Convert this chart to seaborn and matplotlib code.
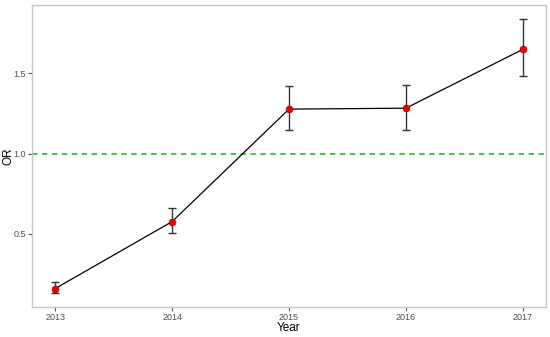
import matplotlib
matplotlib.use("Agg")
import matplotlib.pyplot as plt
import seaborn as sns
import pandas as pd

years = [2013, 2014, 2015, 2016, 2017]
odds_ratio = [0.16, 0.577, 1.277, 1.283, 1.649]
ci_lower = [0.13, 0.508, 1.150, 1.150, 1.482]
ci_upper = [0.198, 0.660, 1.420, 1.426, 1.839]
yticks = [0.5, 1.0, 1.5]
xticks = [2013, 2014, 2015, 2016, 2017]

df = pd.DataFrame({"Year": years, "OR": odds_ratio, "lo": ci_lower, "hi": ci_upper})

sns.set_style("white")
plt.rcParams['font.family'] = ['Liberation Sans', 'DejaVu Sans']

fig = plt.figure(figsize=(5.5, 3.37), dpi=100)
ax = fig.add_axes([0.058, 0.089, 0.935, 0.896])

ax.errorbar(df["Year"], df["OR"],
            yerr=[df["OR"] - df["lo"], df["hi"] - df["OR"]],
            fmt="none", ecolor="#333333", elinewidth=1.0, capsize=2.7, capthick=1.0, zorder=2)
sns.lineplot(data=df, x="Year", y="OR", color="black", linewidth=0.9, ax=ax, zorder=3)
sns.scatterplot(data=df, x="Year", y="OR", color="#EE0000", edgecolor="#AA0000",
                linewidth=0.5, s=24, ax=ax, zorder=4)
ax.axhline(1.0, color="#3DB63D", linestyle=(0, (3, 2.5)), linewidth=1.3, zorder=1)

ax.set_xlim(2012.8, 2017.2)
ax.set_ylim(0.045, 1.925)
ax.set_xticks(xticks)
ax.set_xticklabels([str(x) for x in xticks])
ax.set_yticks(yticks)
ax.set_yticklabels(["0.5", "1.0", "1.5"])

for sp in ax.spines.values():
    sp.set_color("#C8C8C8")
    sp.set_linewidth(1.0)

ax.tick_params(axis="both", which="both", length=3, width=0.8, color="#555555",
               labelcolor="#4D4D4D", labelsize=6.5, pad=1.5, direction="out",
               bottom=True, left=True)
ax.set_xlabel("Year", fontsize=8.5, color="black", va="center", ha="center")
ax.set_ylabel("OR", fontsize=8.5, color="black", va="center", ha="center")
ax.yaxis.set_label_coords(-0.0457, 0.5)
ax.xaxis.set_label_coords(0.5, -0.069)

fig.savefig("out.png", dpi=100)
